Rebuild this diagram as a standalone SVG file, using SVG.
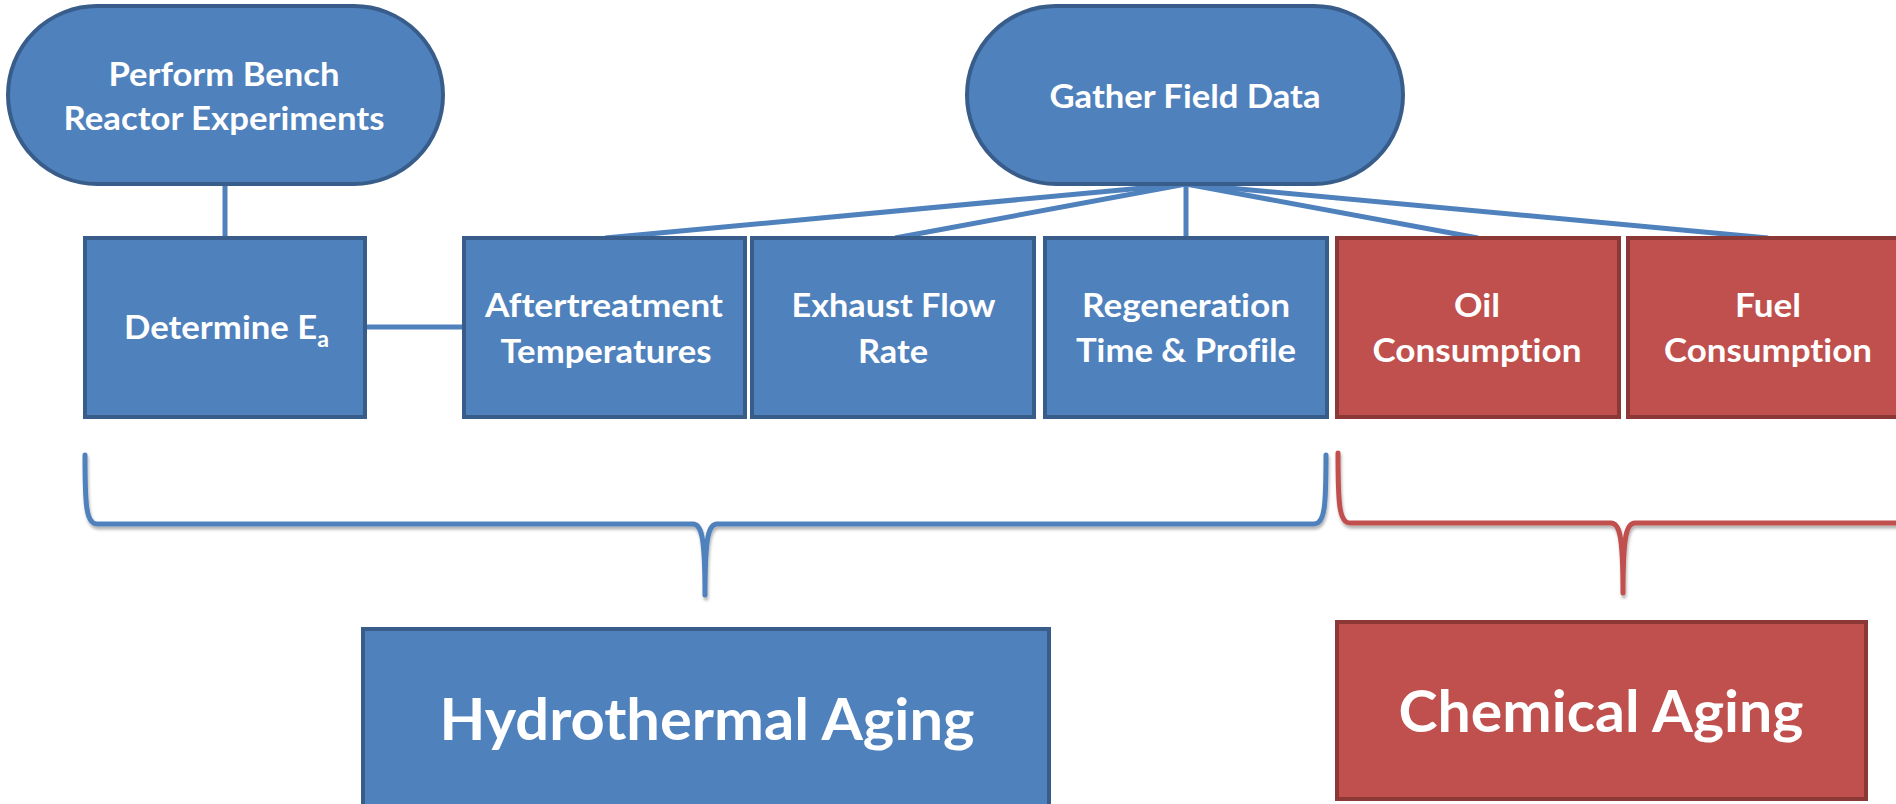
<svg xmlns="http://www.w3.org/2000/svg" width="1896" height="804" viewBox="0 0 1896 804">
  <defs>
    <filter id="sh" x="-5%" y="-20%" width="110%" height="150%">
      <feDropShadow dx="1" dy="3" stdDeviation="1.5" flood-color="#000" flood-opacity="0.3"/>
    </filter>
  </defs>
  <style>
    .blue { fill: #4f81bd; stroke: #385d8a; stroke-width: 4; }
    .red { fill: #c0504d; stroke: #8c3836; stroke-width: 4; }
    .t { font-family: Lato, "Open Sans", "Liberation Sans", sans-serif; font-weight: bold; fill: #ffffff; font-size: 33px; text-anchor: middle; font-variant-ligatures: none; font-feature-settings: "liga" 0, "clig" 0, "dlig" 0; }
    .big { font-size: 58px; }
    .conn { stroke: #4f81bd; stroke-width: 5; fill: none; }
    .bb { stroke: #4f81bd; stroke-width: 5; fill: none; stroke-linecap: round; stroke-linejoin: round; }
    .rb { stroke: #c0504d; stroke-width: 5; fill: none; stroke-linecap: round; stroke-linejoin: round; }
  </style>
  <rect width="1896" height="804" fill="#ffffff"/>

  <g id="connectors">
    <line class="conn" x1="225" y1="184" x2="225" y2="238"/>
    <line class="conn" x1="365" y1="327" x2="464" y2="327"/>
    <line class="conn" x1="1186" y1="184" x2="605" y2="238"/>
    <line class="conn" x1="1186" y1="184" x2="895" y2="238"/>
    <line class="conn" x1="1186" y1="184" x2="1186" y2="238"/>
    <line class="conn" x1="1186" y1="184" x2="1478" y2="238"/>
    <line class="conn" x1="1186" y1="184" x2="1768" y2="238"/>
  </g>

  <g id="perform-bench">
    <rect class="blue" x="8" y="6" width="435" height="178" rx="89" ry="89"/>
    <text class="t" x="224" y="86" textLength="231" lengthAdjust="spacingAndGlyphs">Perform Bench</text>
    <text class="t" x="224" y="130" textLength="321" lengthAdjust="spacingAndGlyphs">Reactor Experiments</text>
  </g>

  <g id="gather-field-data">
    <rect class="blue" x="967" y="6" width="436" height="178" rx="89" ry="89"/>
    <text class="t" x="1185" y="108" textLength="271" lengthAdjust="spacingAndGlyphs">Gather Field Data</text>
  </g>

  <g id="determine-ea">
    <rect class="blue" x="85" y="238" width="280" height="179"/>
    <text class="t" x="124" y="339" style="text-anchor:start" textLength="205" lengthAdjust="spacingAndGlyphs">Determine E<tspan dy="8" font-size="22">a</tspan></text>
  </g>

  <g id="aftertreatment">
    <rect class="blue" x="464" y="238" width="281" height="179"/>
    <text class="t" x="604" y="317" textLength="238" lengthAdjust="spacingAndGlyphs">Aftertreatment</text>
    <text class="t" x="606" y="363" textLength="211" lengthAdjust="spacingAndGlyphs">Temperatures</text>
  </g>

  <g id="exhaust-flow">
    <rect class="blue" x="752" y="238" width="282" height="179"/>
    <text class="t" x="893.5" y="317" textLength="204" lengthAdjust="spacingAndGlyphs">Exhaust Flow</text>
    <text class="t" x="893" y="363" textLength="70" lengthAdjust="spacingAndGlyphs">Rate</text>
  </g>

  <g id="regeneration">
    <rect class="blue" x="1045" y="238" width="282" height="179"/>
    <text class="t" x="1186" y="317" textLength="208" lengthAdjust="spacingAndGlyphs">Regeneration</text>
    <text class="t" x="1186" y="362" textLength="220" lengthAdjust="spacingAndGlyphs">Time &amp; Profile</text>
  </g>

  <g id="oil-consumption">
    <rect class="red" x="1337" y="238" width="282" height="179"/>
    <text class="t" x="1477" y="317" textLength="46" lengthAdjust="spacingAndGlyphs">Oil</text>
    <text class="t" x="1477" y="362" textLength="209" lengthAdjust="spacingAndGlyphs">Consumpt&#8204;ion</text>
  </g>

  <g id="fuel-consumption">
    <rect class="red" x="1628" y="238" width="282" height="179"/>
    <text class="t" x="1768" y="317" textLength="66" lengthAdjust="spacingAndGlyphs">Fuel</text>
    <text class="t" x="1768" y="362" textLength="208" lengthAdjust="spacingAndGlyphs">Consumpt&#8204;ion</text>
  </g>

  <g id="hydrothermal-brace" filter="url(#sh)">
    <path class="bb" d="M85,455 C85,505 86,524 97,524 L693,524 C701,524 705,534 705,595 C705,534 709,524 717,524 L1314,524 C1325,524 1326,505 1326,455"/>
  </g>

  <g id="chemical-brace" filter="url(#sh)">
    <path class="rb" d="M1338,453 C1338,503 1339,523 1350,523 L1611,523 C1619,523 1623,533 1623,593 C1623,533 1627,523 1635,523 L1896,523 C1907,523 1908,503 1908,453"/>
  </g>

  <g id="hydrothermal-aging">
    <rect class="blue" x="363" y="629" width="686" height="195"/>
    <text class="t big" x="707" y="740" textLength="535" lengthAdjust="spacingAndGlyphs">Hydrothermal Aging</text>
  </g>

  <g id="chemical-aging">
    <rect class="red" x="1337" y="622" width="529" height="177"/>
    <text class="t big" x="1601" y="732" textLength="405" lengthAdjust="spacingAndGlyphs">Chemical Aging</text>
  </g>
</svg>
